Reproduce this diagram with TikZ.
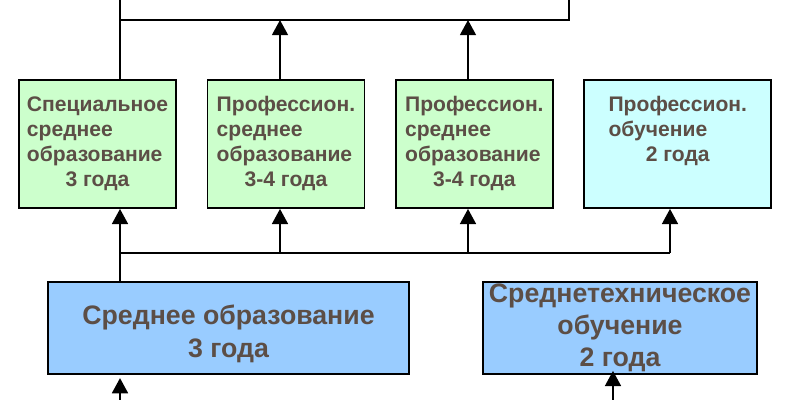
\documentclass[tikz,border=0pt]{standalone}
\usepackage{fontspec}
\setmainfont{Liberation Sans}
\usepackage{tikz}
\usepackage{xcolor}
\usetikzlibrary{calc,positioning,arrows.meta,shapes}
\definecolor{txtgray}{RGB}{92,78,70}
\definecolor{lgreen}{RGB}{204,255,204}
\definecolor{lcyan}{RGB}{204,255,255}
\definecolor{lblue}{RGB}{153,204,255}
\newcommand{\lastrow}[1]{\multicolumn{1}{@{}c@{}}{#1}}
\tikzset{
>={Triangle[width=0.4cm,length=0.38cm]},
  line/.style={draw, line width=1.3pt},
  arrline/.style={draw, line width=1.3pt, ->},
}

\begin{document}
\begin{tikzpicture}[node distance=0.74cm]
    \tikzset{
        every node/.style={text=txtgray},
        action/.style={rectangle,draw=black, line width=1.3pt, fill=lgreen, inner sep=0pt, minimum width=3.925cm, minimum height=3.2cm, font=\fontsize{15}{17.8}\selectfont\bfseries},
        training/.style={action, fill=lcyan, minimum width=4.675cm},
        school/.style={rectangle,draw=black, line width=1.3pt, fill=lblue, inner sep=0pt, minimum height=2.3cm, align=center, font=\fontsize{19}{23}\selectfont\bfseries},
    }
    \useasboundingbox (0,0) rectangle (20,10);

    \node[rectangle, draw=black, line width=1.3pt, anchor=south west, outer sep=0pt, minimum width=11.225cm, minimum height=2cm] (item0) at (3.0,9.5) {};

    \node[action] (item1) at (2.4375,6.4) {\begin{tabular}{@{}l@{}}Специальное\\среднее\\образование\\\lastrow{3 года}\end{tabular}};
    \node[action, right=of item1] (item2) {\begin{tabular}{@{}l@{}}Профессион.\\среднее\\образование\\\lastrow{3-4 года}\end{tabular}};
    \node[action, right=of item2] (item3) {\begin{tabular}{@{}l@{}}Профессион.\\среднее\\образование\\\lastrow{3-4 года}\end{tabular}};
    \node[training, right=of item3] (item4) {\begin{tabular}{@{}l@{}}Профессион.\\обучение\\\lastrow{2 года}\\\lastrow{~}\end{tabular}};

    \node[school, minimum width=9.025cm] (item5) at (5.7125,1.8) {\rule{0pt}{22.5pt}Среднее образование\\3 года};
    \node[school, minimum width=6.85cm] (item6) at (15.5,1.8) {Среднетехническое\\обучение\\2 года};

    \coordinate (AuxNode01) at (3.0,3.675);
    \coordinate (AuxNode02) at (7.0,3.675);
    \coordinate (AuxNode03) at (11.7,3.675);
    \coordinate (AuxNode04) at (16.75,3.675);
    \coordinate (In01) at (3.0,0);
    \coordinate (In02) at (15.325,0);

    \path[line] (AuxNode01 |- item5.north) -- (AuxNode01);
    \path[line] (AuxNode01) -- (AuxNode04);
    \path[arrline] (AuxNode01) -- (AuxNode01 |- item1.south);
    \path[arrline] (AuxNode02) -- (AuxNode02 |- item2.south);
    \path[arrline] (AuxNode03) -- (AuxNode03 |- item3.south);
    \path[arrline] (AuxNode04) -- (AuxNode04 |- item4.south);

    \path[line] (AuxNode01 |- item1.north) -- (item0.south west);
    \path[arrline] (AuxNode02 |- item2.north) -- (AuxNode02 |- item0.south);
    \path[arrline] (AuxNode03 |- item3.north) -- (AuxNode03 |- item0.south);

    \path[arrline] (In01) -- ([yshift=-0.08cm]In01 |- item5.south);
    \path[arrline] (In02) -- ([yshift=0.1cm]In02 |- item6.south);
\end{tikzpicture}
\end{document}
